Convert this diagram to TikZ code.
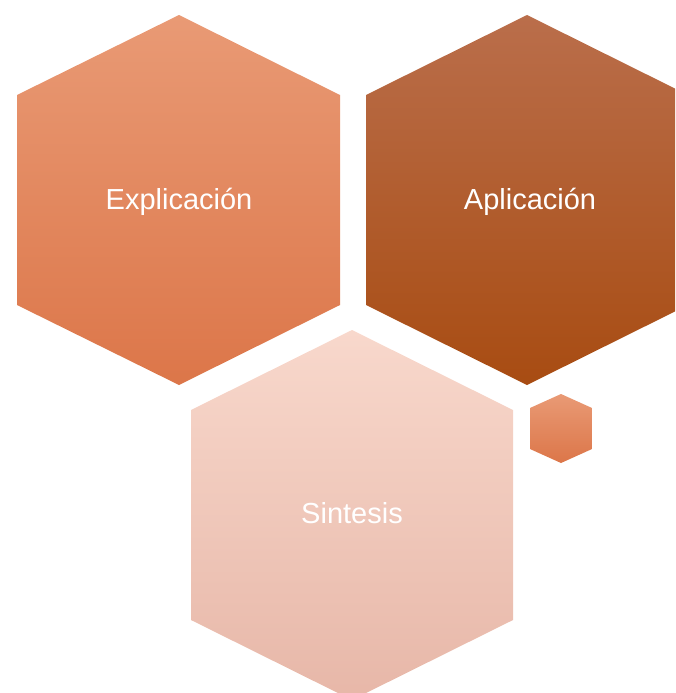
\documentclass[tikz,border=0pt]{standalone}
\usepackage{fontspec}
\setmainfont{Liberation Sans}

\definecolor{explTop}{HTML}{E99A75}
\definecolor{explMid}{HTML}{EB8A5D}
\definecolor{explBot}{HTML}{DC7649}
\definecolor{apliTop}{HTML}{BA6E4B}
\definecolor{apliMid}{HTML}{B2581F}
\definecolor{apliBot}{HTML}{A84C12}
\definecolor{sintTop}{HTML}{F8D8CC}
\definecolor{sintMid}{HTML}{F8D2C5}
\definecolor{sintBot}{HTML}{E7B7A8}

\tikzset{
  hexlabel/.style={text=white, anchor=base, font=\fontsize{29}{34}\selectfont},
  explfill/.style={top color=explTop, middle color=explMid, bottom color=explBot},
}

\begin{document}
\begin{tikzpicture}[x=1pt, y=-1pt]
    % Frame
    \useasboundingbox (0,0) rectangle (675,693);
    \clip (0,0) rectangle (675,693);

    % Explicacion hexagon
    \shade[explfill] (179,15) -- (340,95) -- (340,305) -- (179,385)
        -- (17,305) -- (17,95) -- cycle;

    % Aplicacion hexagon
    \shade[top color=apliTop, middle color=apliMid, bottom color=apliBot]
        (527,15) -- (688,95) -- (688,305) -- (527,385)
        -- (366,305) -- (366,95) -- cycle;

    % Sintesis hexagon
    \shade[top color=sintTop, middle color=sintMid, bottom color=sintBot]
        (352,330) -- (513,410) -- (513,620) -- (352,700)
        -- (191,620) -- (191,410) -- cycle;

    % Small hexagon
    \shade[explfill] (561,394) -- (592,408) -- (592,449) -- (561,463)
        -- (530,449) -- (530,408) -- cycle;

    % Labels
    \node[hexlabel] (explicacion) at (179,209) {Explicación};
    \node[hexlabel] (aplicacion) at (530,209) {Aplicación};
    \node[hexlabel] (sintesis) at (352,523) {Sintesis};
\end{tikzpicture}
\end{document}
